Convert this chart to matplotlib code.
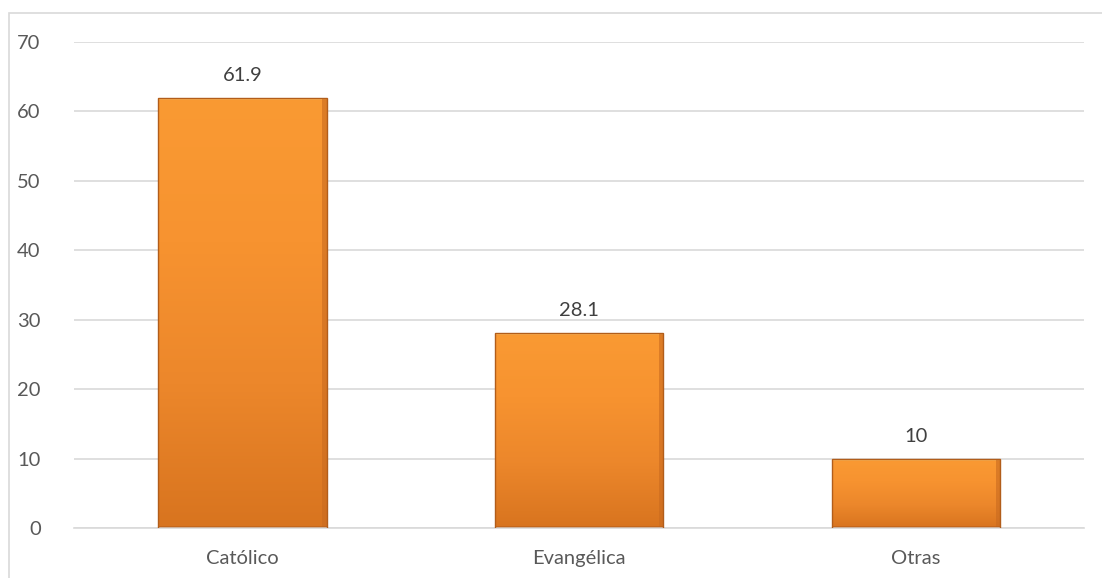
import numpy as np
import matplotlib.pyplot as plt
from matplotlib.colors import LinearSegmentedColormap
from matplotlib.patches import Rectangle

categories = ['Católico', 'Evangélica', 'Otras']
values = [61.9, 28.1, 10]
value_labels = ['61.9', '28.1', '10']

plt.rcParams['font.family'] = ['Lato', 'DejaVu Sans']

fig = plt.figure(figsize=(11.02, 5.78), dpi=100)
ax = fig.add_axes([74 / 1102, 1 - 528 / 578, 1010 / 1102, 486 / 578])

# outer chart frame (only left and top edges visible)
fig.patches.append(Rectangle((9 / 1102, -0.05), 1.1, 1.05 - 13 / 578,
                             transform=fig.transFigure, fill=False,
                             edgecolor='#d9d9d9', linewidth=1.2))

x = np.arange(len(categories))
width = 0.5
cmap = LinearSegmentedColormap.from_list('bar', ['#d8741f', '#ec872b', '#f79330', '#fa9a33'])
grad = np.linspace(0, 1, 256).reshape(-1, 1)

bars = ax.bar(x, values, width=width, color='none', edgecolor='#b25d1a',
              linewidth=1.0, zorder=3)
for b in bars:
    x0, y0 = b.get_x(), b.get_y()
    w, h = b.get_width(), b.get_height()
    im = ax.imshow(grad, extent=[x0, x0 + w, y0, y0 + h], origin='lower',
                   cmap=cmap, aspect='auto', zorder=2)
    im.set_clip_path(b)
    # bevel highlight on top, shading on sides
    ax.fill_between([x0, x0 + w], y0 + h - 0.3, y0 + h, color='#fcb050',
                    zorder=2.5, linewidth=0)
    ax.fill_between([x0 + w - 0.012, x0 + w], y0, y0 + h, color='#c96a1f',
                    alpha=0.6, zorder=2.5, linewidth=0)
    ax.fill_between([x0, x0 + w], y0, y0 + 0.3, color='#b85f1b',
                    alpha=0.6, zorder=2.5, linewidth=0)

for xi, v, lab in zip(x, values, value_labels):
    ax.text(xi, v + 2.0, lab, ha='center', va='bottom', fontsize=14.5, color='#404040')

ax.set_xlim(-0.5, 2.5)
ax.set_ylim(0, 70)
ax.set_yticks(range(0, 71, 10))
ax.set_xticks(x)
ax.set_xticklabels(categories)
ax.yaxis.grid(True, color='#d9d9d9', linewidth=1.2, zorder=0)
ax.set_axisbelow(True)
for s in ['top', 'right', 'left']:
    ax.spines[s].set_visible(False)
ax.spines['bottom'].set_color('#d9d9d9')
ax.spines['bottom'].set_linewidth(1.2)
ax.tick_params(axis='both', length=0, labelsize=14.5, labelcolor='#595959')
ax.tick_params(axis='x', pad=16)
ax.tick_params(axis='y', pad=24)

fig.savefig('out.png', dpi=100)
